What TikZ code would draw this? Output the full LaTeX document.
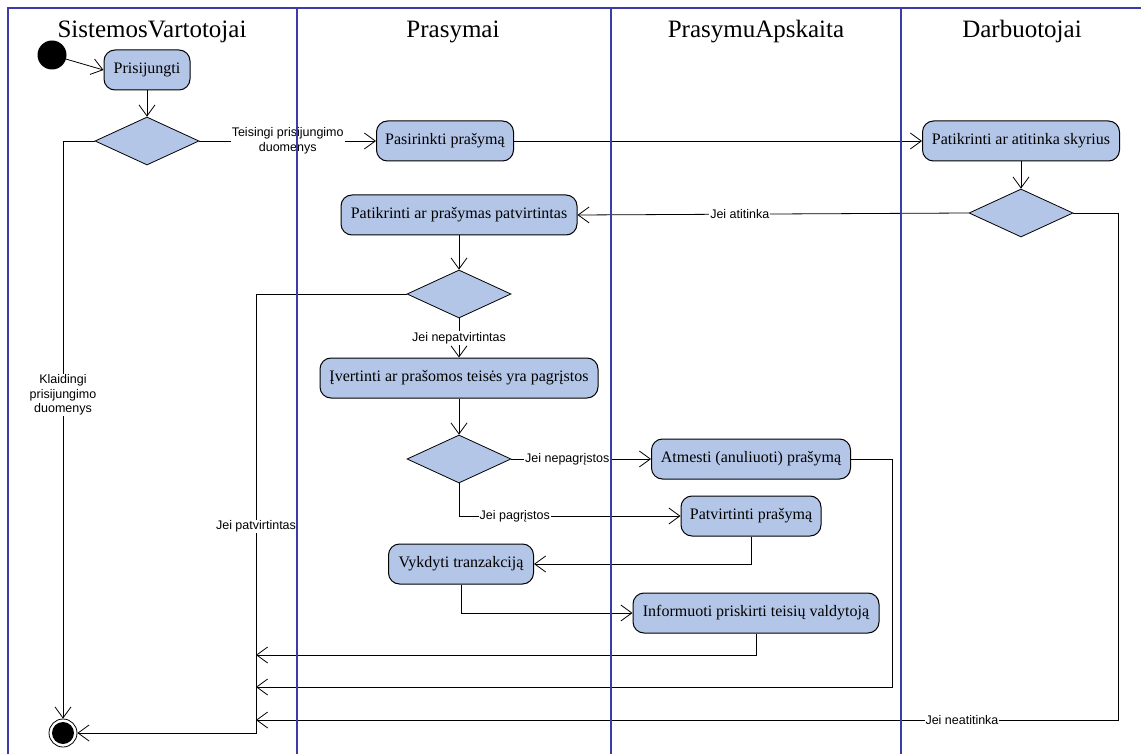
\documentclass[tikz,border=0pt]{standalone}
\usepackage{fontspec}
\setmainfont{Liberation Serif}
\newfontfamily\labfont{Liberation Sans}
\usetikzlibrary{shapes.geometric,arrows.meta}
\definecolor{boxfill}{RGB}{180,198,231}
\definecolor{lane}{RGB}{60,60,165}
\begin{document}
\begin{tikzpicture}[x=1pt,y=-1pt,
  act/.style={draw=black, line width=1pt, fill=boxfill, rounded corners=11pt, minimum height=40pt, inner sep=2pt, font=\fontsize{16}{19}\selectfont},
  dec/.style={draw=black, line width=0.8pt, fill=boxfill, diamond, minimum width=104pt, minimum height=48pt, inner sep=0pt},
  flow/.style={draw=black, line width=0.8pt, -{Straight Barb[length=11pt,width=16pt,line width=0.8pt]}},
  lab/.style={font=\labfont\fontsize{12.5}{14.5}\selectfont, fill=white, inner sep=1pt, align=center},
  title/.style={font=\fontsize{25}{28}\selectfont, anchor=base},
  lanel/.style={draw=lane, line width=1.2pt}]
\useasboundingbox (0,0) rectangle (1141,754);
\fill[white] (0,0) rectangle (1141,754);

% titles
\node[title] (t1) at (152,38) {SistemosVartotojai};
\node[title] (t2) at (453,38) {Prasymai};
\node[title] (t3) at (756,38) {PrasymuApskaita};
\node[title] (t4) at (1022,38) {Darbuotojai};

% start / end
\node[circle, fill=black, minimum size=29pt, inner sep=0pt] (init) at (52,55) {};
\node[circle, draw=black, line width=0.8pt, fill=white, minimum size=28pt, inner sep=0pt] (fin) at (63,733) {};
\fill[black] (fin.center) circle (11pt);

% activities
\node[act, minimum width=86pt] (pris) at (147,70) {Prisijungti};
\node[dec] (d1) at (147,141) {};
\node[act, minimum width=137pt] (pas) at (445,141) {Pasirinkti prašymą};
\node[act, minimum width=197pt] (sky) at (1021,141) {Patikrinti ar atitinka skyrius};
\node[dec] (d2) at (1021,213) {};
\node[act, minimum width=236pt] (pat) at (459,215) {Patikrinti ar prašymas patvirtintas};
\node[dec] (d3) at (459,294) {};
\node[act, minimum width=278pt] (ive) at (459,378) {Įvertinti ar prašomos teisės yra pagrįstos};
\node[dec] (d4) at (459,459) {};
\node[act, minimum width=199pt] (atm) at (751,459) {Atmesti (anuliuoti) prašymą};
\node[act, minimum width=140pt] (ptv) at (751,516) {Patvirtinti prašymą};
\node[act, minimum width=145pt] (vyk) at (461,564) {Vykdyti tranzakciją};
\node[act, minimum width=246pt] (inf) at (756,613) {Informuoti priskirti teisių valdytoją};

% helper coordinates
\coordinate (jpt) at (256,294);
\coordinate (jpb) at (256,733);
\coordinate (e1) at (256,655);
\coordinate (e2) at (256,687);
\coordinate (e3) at (256,720);
\coordinate (r2) at (892,687);
\coordinate (r3) at (1118,720);

% connectors
\draw[flow] (init) -- (pris.west);
\draw[flow] (pris) -- (d1.north);
\draw[flow] (d1.east) -- node[lab]{Teisingi prisijungimo\\duomenys} (pas.west);
\draw[flow] (d1.west) -| node[lab, pos=0.72]{Klaidingi\\prisijungimo\\duomenys} (fin.north);
\draw[flow] (pas.east) -- (sky.west);
\draw[flow] (sky) -- (d2.north);
\draw[flow] (d2.west) -- node[lab, pos=0.585]{Jei atitinka} (pat.east);
\draw[flow] (d2.east) -| (r3) -- node[lab, pos=0.181]{Jei neatitinka} (e3);
\draw[flow] (pat) -- (d3.north);
\draw[flow] (d3.west) -- (jpt) -- node[lab, pos=0.53]{Jei patvirtintas} (jpb) -- (fin.east);
\draw[flow] (d3.south) -- node[lab]{Jei nepatvirtintas} (ive.north);
\draw[flow] (ive) -- (d4.north);
\draw[flow] (d4.east) -- node[lab, pos=0.40]{Jei nepagrįstos} (atm.west);
\draw[flow] (d4.south) |- node[lab, pos=0.626]{Jei pagrįstos} (ptv.west);
\draw[flow] (ptv.south) |- (vyk.east);
\draw[flow] (vyk.south) |- (inf.west);
\draw[flow] (inf.south) |- (e1);
\draw[flow] (atm.east) -| (r2) -- (e2);

% swimlanes
\draw[lanel] (8,754) -- (8,8) -- (1141,8);
\draw[lanel] (297,8) -- (297,754);
\draw[lanel] (611,8) -- (611,754);
\draw[lanel] (901,8) -- (901,754);
\end{tikzpicture}
\end{document}
